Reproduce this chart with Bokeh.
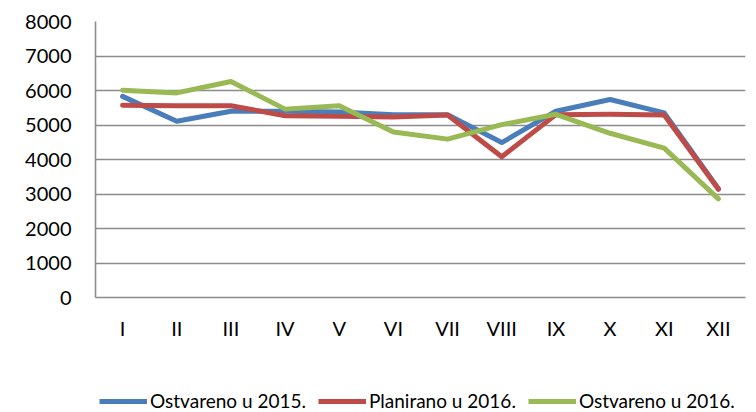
from bokeh.plotting import figure
from bokeh.layouts import column
from bokeh.models import FactorRange, Range1d, FixedTicker, Legend, LegendItem
from bokeh.embed import file_html
from bokeh.resources import INLINE

months = ["I", "II", "III", "IV", "V", "VI", "VII", "VIII", "IX", "X", "XI", "XII"]
ostvareno_2015 = [5830, 5110, 5400, 5400, 5380, 5300, 5300, 4490, 5400, 5740, 5350, 3150]
planirano_2016 = [5570, 5560, 5560, 5270, 5250, 5230, 5290, 4080, 5300, 5310, 5290, 3140]
ostvareno_2016 = [6010, 5930, 6260, 5460, 5560, 4800, 4590, 5010, 5310, 4760, 4330, 2860]
y_ticks = [0, 1000, 2000, 3000, 4000, 5000, 6000, 7000, 8000]
series_names = ["Ostvareno u 2015.", "Planirano u 2016.", "Ostvareno u 2016."]
colors = ["#4a7ebb", "#be4b48", "#98b954"]
series = [ostvareno_2015, planirano_2016, ostvareno_2016]

FONT = "Lato"

# main chart
p = figure(width=756, height=342, output_backend="svg", toolbar_location=None,
           x_range=FactorRange(*months, range_padding=0), y_range=Range1d(0, 8000),
           min_border_left=95, min_border_right=11, min_border_top=21, min_border_bottom=45)
p.outline_line_color = None
p.background_fill_color = "white"

p.xgrid.grid_line_color = None
p.ygrid.grid_line_color = "#8c8c8c"
p.ygrid.grid_line_width = 1.6
p.yaxis.ticker = FixedTicker(ticks=y_ticks)

for ax in (p.xaxis[0], p.yaxis[0]):
    ax.axis_line_color = "#8c8c8c"
    ax.axis_line_width = 1.6
    ax.major_tick_line_color = None
    ax.minor_tick_line_color = None
    ax.major_label_text_font = FONT
    ax.major_label_text_font_size = "20px"
    ax.major_label_text_color = "black"
p.yaxis.major_label_standoff = 18
p.xaxis.major_label_standoff = 12

for vals, col in zip(series, colors):
    p.line(months, vals, line_color=col, line_width=5, line_cap="round", line_join="round")

# legend strip below the chart (same series, plotted outside its visible range)
lg = figure(width=756, height=70, output_backend="svg", toolbar_location=None,
            x_range=FactorRange(*months, range_padding=0), y_range=Range1d(0, 1),
            x_axis_type=None, y_axis_type=None, min_border=0)
lg.outline_line_color = None
lg.xgrid.visible = False
lg.ygrid.visible = False
leg_renderers = []
for vals, col in zip(series, colors):
    leg_renderers.append(lg.line(months, vals, line_color=col, line_width=5))

legend = Legend(items=[LegendItem(label=n, renderers=[r]) for n, r in zip(series_names, leg_renderers)],
                orientation="horizontal", location=(4, 0),
                label_text_font=FONT, label_text_font_size="19px", label_text_color="black",
                glyph_width=48, glyph_height=20, label_standoff=3, spacing=12,
                padding=0, margin=0, background_fill_alpha=0, border_line_color=None)
lg.add_layout(legend, "center")

open("out.html", "w").write(file_html(column(p, lg, spacing=0), INLINE))
